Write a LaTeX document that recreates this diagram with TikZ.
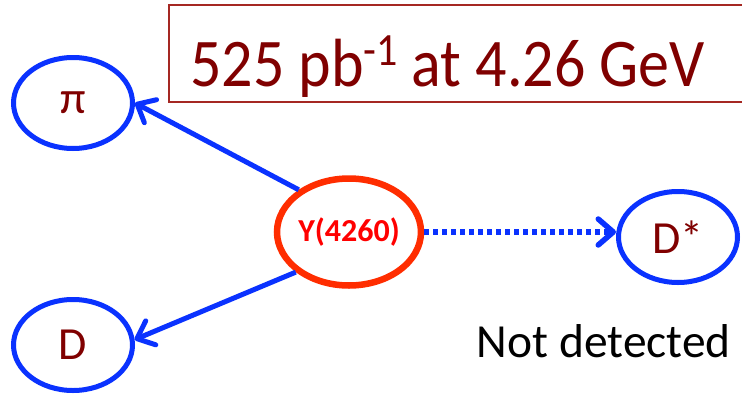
\documentclass[tikz,border=0pt]{standalone}
\usepackage{fontspec}
\setmainfont{Carlito}
\usetikzlibrary{shapes.geometric,arrows.meta}
\definecolor{pblue}{RGB}{10,50,255}
\definecolor{yred}{RGB}{255,45,0}
\definecolor{tred}{RGB}{255,0,0}
\definecolor{dred}{RGB}{128,0,0}
\definecolor{boxred}{RGB}{165,40,35}
\tikzset{
  particle/.style={ellipse, draw=pblue, line width=5pt, minimum width=119pt, minimum height=91pt, inner sep=0pt, text=dred, font=\fontsize{46}{50}\selectfont},
  ynode/.style={ellipse, draw=yred, line width=6.5pt, minimum width=144pt, minimum height=107pt, inner sep=0pt, text=tred, font=\bfseries\fontsize{32}{36}\selectfont},
  decay/.style={draw=pblue, line width=5pt, -{Straight Barb[length=15pt,width=26pt,line cap=round,line join=round]}},
  undetected/.style={decay, line width=5.5pt, dash pattern=on 5pt off 4pt},
}
\begin{document}
\begin{tikzpicture}[x=1pt,y=-1pt]
\useasboundingbox (0,0) rectangle (742,394);
\fill[white] (0,0) rectangle (742,394);
\draw[boxred, line width=2.2pt] (760,5) -- (169,5) -- (169,102) -- (760,102);
\node[anchor=base west, text=dred, inner sep=0pt, font=\fontsize{62}{66}\selectfont] (title) at (190,86) {\scalebox{1}[1.1]{525 pb\raisebox{19pt}{\fontsize{42}{44}\selectfont -1} at 4.26 GeV}};
\node[particle] (pi) at (73,103) {π};
\node[particle] (D) at (73,345) {D};
\node[particle] (Dstar) at (678,237) {D*};
\node[ynode] (Y) at (349,232) {Y(4260)};
\node[anchor=base east, inner sep=0pt, font=\fontsize{47.5}{50}\selectfont] (nd) at (731,357) {Not detected};
\draw[decay] (Y.140) -- (pi.east);
\draw[decay] (Y.217) -- (D.5);
\draw[undetected] (Y.east) -- (Y.east -| Dstar.west);
\end{tikzpicture}
\end{document}
